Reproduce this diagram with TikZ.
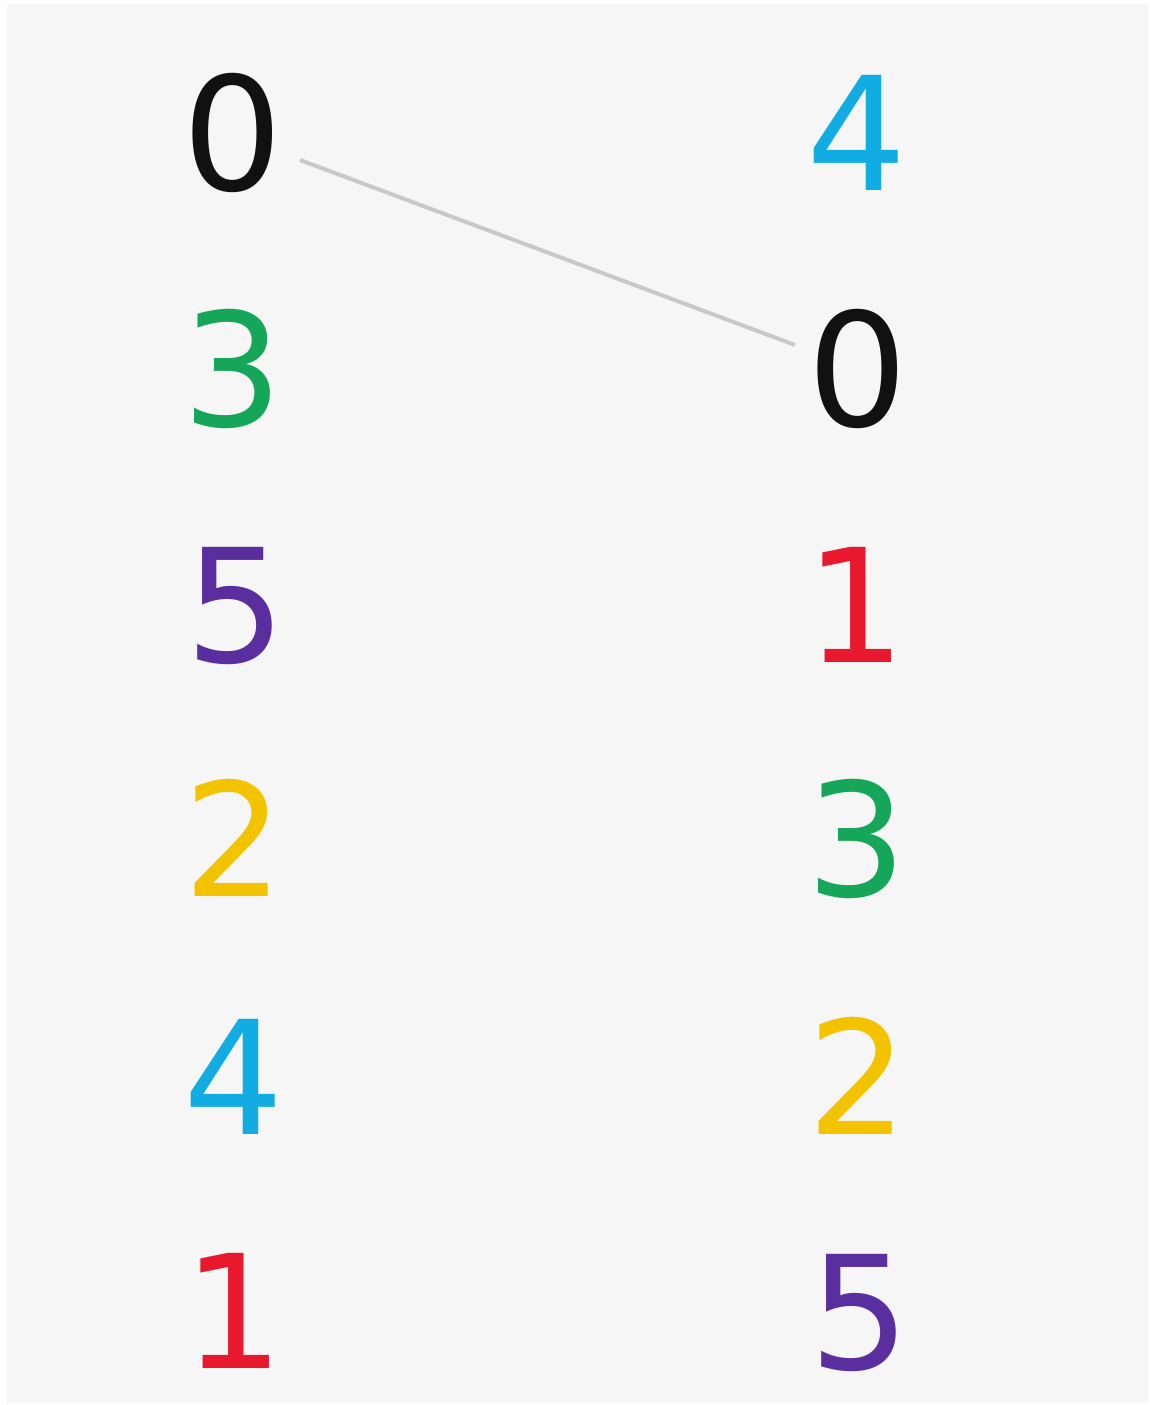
\documentclass[tikz,border=0pt]{standalone}
\usepackage{fontspec}
\newfontfamily\digitfont{DejaVu Sans}
\definecolor{bggray}{HTML}{F6F6F6}
\definecolor{dblack}{HTML}{111111}
\definecolor{dcyan}{HTML}{10ACE2}
\definecolor{dgreen}{HTML}{16A65A}
\definecolor{dpurple}{HTML}{5A2E9E}
\definecolor{dyellow}{HTML}{F3C300}
\definecolor{dred}{HTML}{E8192C}
\definecolor{linkgray}{HTML}{C8C8C8}
\tikzset{
  digit/.style={anchor=base, inner sep=0pt, font=\digitfont\fontsize{158}{158}\selectfont},
  link/.style={draw=linkgray, line width=4pt}
}
\begin{document}
\begin{tikzpicture}[x=1pt,y=-1pt]
\useasboundingbox (0,0) rectangle (1150,1405);
\fill[white] (0,0) rectangle (1150,1405);
\fill[bggray] (7,4) rectangle (1148,1403);
% left column
\node[digit, text=dblack]  (L0) at (233,190)  {0};
\node[digit, text=dgreen]  (L3) at (233,426)  {3};
\node[digit, text=dpurple] (L5) at (236,662)  {5};
\node[digit, text=dyellow] (L2) at (234,896)  {2};
\node[digit, text=dcyan]   (L4) at (234,1134) {4};
\node[digit, text=dred]    (L1) at (234,1368) {1};
% right column
\node[digit, text=dcyan]   (R4) at (857,190)  {4};
\node[digit, text=dblack]  (R0) at (858,426)  {0};
\node[digit, text=dred]    (R1) at (856,662)  {1};
\node[digit, text=dgreen]  (R3) at (857,896)  {3};
\node[digit, text=dyellow] (R2) at (858,1134) {2};
\node[digit, text=dpurple] (R5) at (860,1369) {5};
% connector
\coordinate (a) at ([xshift=67pt,yshift=30pt]L0.base);
\coordinate (b) at ([xshift=-63pt,yshift=81pt]R0.base);
\draw[link] (a) -- (b);
\end{tikzpicture}
\end{document}
